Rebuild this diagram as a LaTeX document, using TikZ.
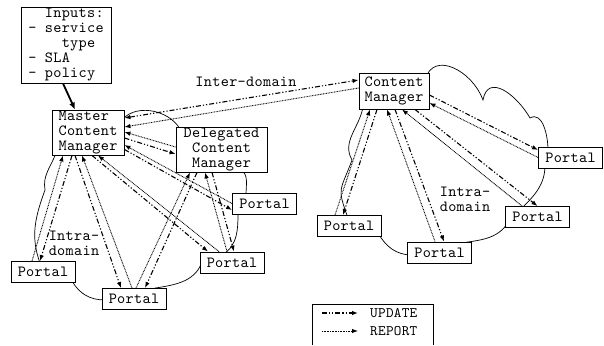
\documentclass[tikz,border=0pt]{standalone}
\usepackage{fontspec}
\setmonofont{lmmono10-regular.otf}[LetterSpace=2]
\usetikzlibrary{arrows.meta,backgrounds}

\begin{document}
\begin{tikzpicture}[x=1pt, y=1pt,
    >={Latex[length=6pt,width=4.5pt]},
    box/.style={draw, line width=0.9pt, fill=white, inner sep=1pt,
        font=\ttfamily\fontsize{15.5}{15}\selectfont},
    portal/.style={box, minimum width=64pt, minimum height=21pt},
    update/.style={->, line width=1.1pt,
        dash pattern=on 5pt off 2pt on 1.2pt off 2pt on 1.2pt off 2pt},
    report/.style={->, line width=0.9pt, dash pattern=on 0.8pt off 0.8pt},
    cloudline/.style={line width=0.7pt},
    lbl/.style={font=\ttfamily\fontsize{15.5}{15}\selectfont, align=left, inner sep=0pt}]

    \useasboundingbox (0,0) rectangle (604,345);

    % managers and inputs
    \node[box, minimum width=90pt, minimum height=76pt, align=left] (inputs) at (66, 300)
        {\hphantom{xx}Inputs:\\- service\\\hphantom{xxxx}type\\- SLA\\- policy};
    \node[box, minimum width=72pt, minimum height=45pt, align=left] (master) at (88, 212.5)
        {Master\\Content\\Manager};
    \node[box, minimum width=91pt, minimum height=45pt, align=center] (deleg) at (221.5, 195.5)
        {Delegated\\Content\\Manager};
    \node[box, minimum width=70pt, minimum height=36pt, align=left] (cm) at (394, 254)
        {Content\\Manager};

    % portals
    \node[portal] (p1) at (264.5, 141.5) {Portal};
    \node[portal] (p2) at (232, 82.5) {Portal};
    \node[portal] (p3) at (134, 46) {Portal};
    \node[portal] (p4) at (43, 73) {Portal};
    \node[portal] (q1) at (570.5, 187.5) {Portal};
    \node[portal] (q2) at (537.5, 128) {Portal};
    \node[portal] (q3) at (439.5, 92.5) {Portal};
    \node[portal] (q4) at (349, 119) {Portal};

    \node[lbl] (inter) at (246, 263) {Inter-domain};
    \node[lbl] (intraL) at (74, 102) {Intra-\\domain};
    \node[lbl] (intraR) at (465, 146) {Intra-\\domain};

    % clouds
    \begin{scope}[on background layer]
    \draw[cloudline] (120,222) to[out=60,in=120] (180,216) -- (240,176)
        to[out=-30,in=90] (246,150) -- (238,135)
        to[out=-90,in=30] (222,90) -- (202,83)
        to[out=-110,in=10] (150,56) -- (105,45)
        to[out=180,in=-60] (72,64) -- (40,82)
        to[out=110,in=-110] (45,155)
        to[out=100,in=-110] (56,192) -- cycle;
    \draw[cloudline] (425,265) to[out=75,in=110,looseness=1.3] (483,245)
        to[out=80,in=120,looseness=1.4] (530,227)
        to[out=30,in=90] (548,195) -- (545,180)
        to[out=-90,in=45] (522,137) -- (509,124)
        to[out=-120,in=10] (455,101) -- (412,90)
        to[out=180,in=-60] (378,112) -- (348,127)
        to[out=110,in=-110,looseness=1.5] (352,185)
        to[out=120,in=-100] (363,238) -- cycle;
    \end{scope}

    \draw[->, line width=1.8pt, >={Latex[length=7pt,width=6pt]}]
        ([xshift=-3pt]inputs.south) -- ([xshift=-13pt]master.north);

    % inter-domain
    \draw[update, <->] ([yshift=14.5pt]master.east) -- ([yshift=11pt]cm.west);
    \draw[report] ([yshift=3pt]cm.west) -- ([yshift=5.5pt]master.east);

    % left domain
    \draw[update] ([xshift=-16pt]master.south) -- ([xshift=-3pt]p4.north);
    \draw[report] ([xshift=-11pt]p4.north) -- ([xshift=-25pt]master.south);
    \draw[update] ([xshift=-13pt]master.south) -- ([xshift=-13pt]p3.north);
    \draw[report] ([xshift=-2pt]p3.north) -- ([xshift=-6pt]master.south);
    \draw[update] ([xshift=4pt]master.south) -- ([xshift=-24pt]p2.north);
    \draw[report] ([xshift=-13pt]p2.north) -- ([xshift=10pt]master.south);
    \draw[update] ([yshift=-17pt]master.east) -- ([yshift=-6.5pt]p1.west);
    \draw[report] (p1.west) -- ([yshift=-12.5pt]master.east);
    \draw[report] ([yshift=2.5pt]deleg.west) -- ([yshift=0.5pt]master.east);
    \draw[update] ([yshift=-5.5pt]master.east) -- ([yshift=-4.5pt]deleg.west);
    \draw[report] ([xshift=2pt]p3.north) -- ([xshift=-31.5pt]deleg.south);
    \draw[update] ([xshift=-24.5pt]deleg.south) -- ([xshift=11pt]p3.north);
    \draw[report] ([xshift=-5pt]p2.north) -- ([xshift=-16.5pt]deleg.south);
    \draw[update] ([xshift=-9.5pt]deleg.south) -- ([xshift=2pt]p2.north);

    % right domain
    \draw[report] ([xshift=-14pt]q4.north) -- ([xshift=-24pt]cm.south);
    \draw[update] ([xshift=-17pt]cm.south) -- ([xshift=-6pt]q4.north);
    \draw[report] ([xshift=-4.5pt]q3.north) -- ([xshift=-7pt]cm.south);
    \draw[update] ([xshift=1pt]cm.south) -- ([xshift=4.5pt]q3.north);
    \draw[report] ([xshift=-15.5pt]q2.north) -- ([xshift=8pt]cm.south);
    \draw[update] ([xshift=21pt]cm.south) -- (q2.north);
    \draw[update] ([yshift=-4pt]cm.east) -- ([yshift=7.5pt]q1.west);
    \draw[report] (q1.west) -- ([yshift=-12pt]cm.east);

    % legend
    \draw[line width=0.8pt] (312,0) -- (312,41) -- (433,41) -- (433,0);
    \coordinate (ua) at (322,32);
    \coordinate (ub) at (358,32);
    \coordinate (ra) at (322,14);
    \coordinate (rb) at (358,14);
    \draw[update] (ua) -- (ub);
    \draw[report] (ra) -- (rb);
    \node[anchor=west, inner sep=0pt, font=\ttfamily\fontsize{14.5}{14}\selectfont] (lupdate) at (370,32) {UPDATE};
    \node[anchor=west, inner sep=0pt, font=\ttfamily\fontsize{14.5}{14}\selectfont] (lreport) at (370,14) {REPORT};
\end{tikzpicture}
\end{document}
